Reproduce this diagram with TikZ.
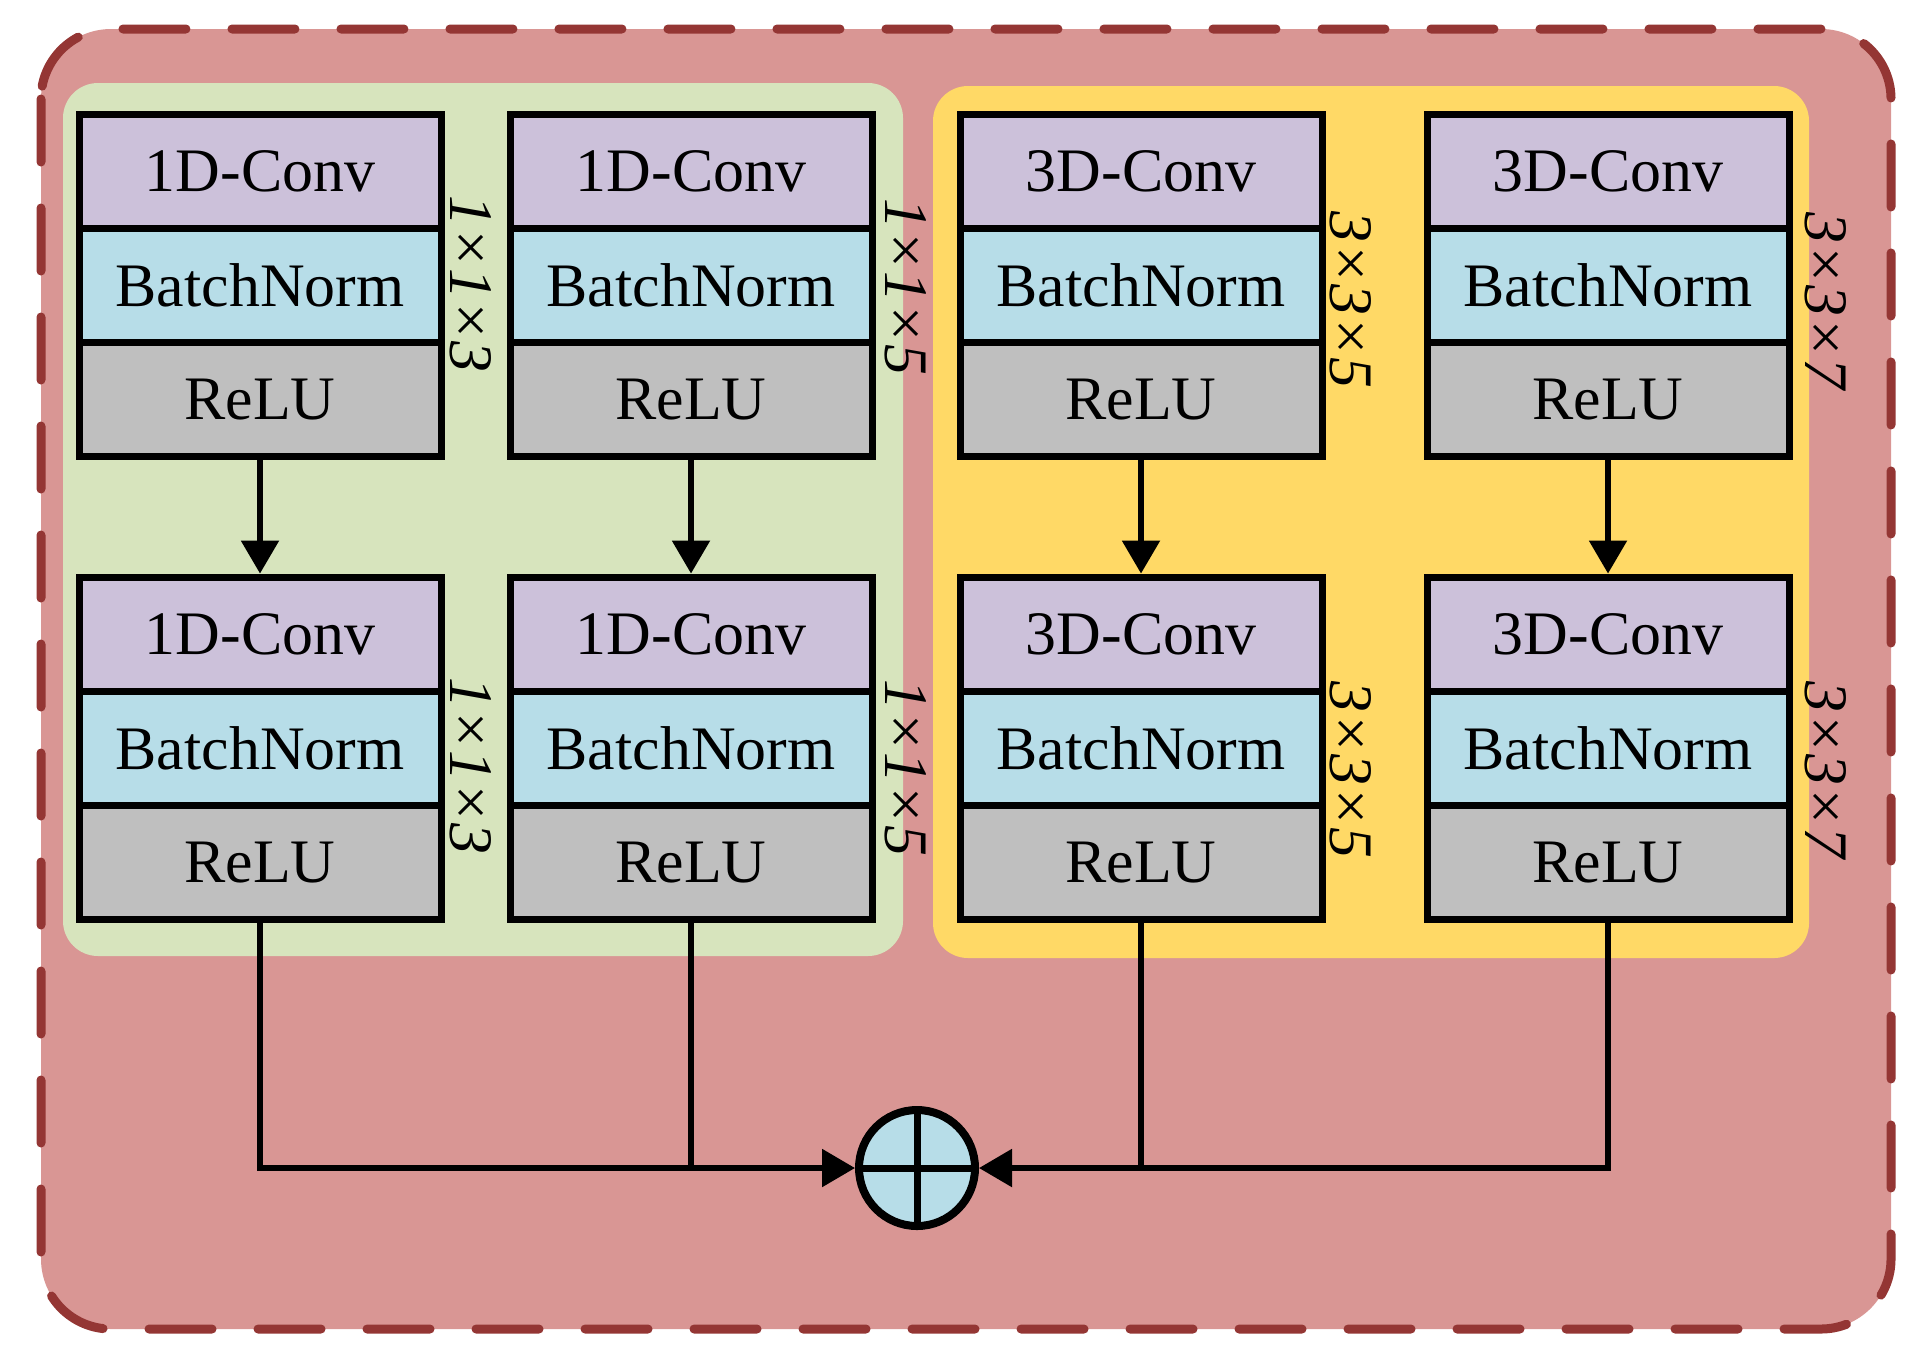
\documentclass[tikz,border=0pt]{standalone}
\usepackage{fontspec}
\setmainfont{Liberation Serif}
\usetikzlibrary{arrows.meta}
\definecolor{outerfill}{HTML}{D99694}
\definecolor{outerline}{HTML}{943634}
\definecolor{greenp}{HTML}{D7E4BD}
\definecolor{yellowp}{HTML}{FFD966}
\definecolor{convc}{HTML}{CCC1DA}
\definecolor{bnc}{HTML}{B7DDE8}
\definecolor{reluc}{HTML}{BFBFBF}
\begin{document}
\begin{tikzpicture}[x=0.1mm,y=-0.1mm,
  sect/.style={draw=black, line width=0.7mm, minimum width=36.2mm, minimum height=11.43mm,
    inner sep=0pt, outer sep=0.35mm, font=\fontsize{17.6}{20}\selectfont},
  conv/.style={sect, fill=convc},
  bn/.style={sect, fill=bnc},
  relu/.style={sect, fill=reluc},
  dimlab/.style={rotate=-90, inner sep=0pt, font=\fontsize{17.6}{20}\selectfont\itshape},
  conn/.style={line width=0.55mm},
  arr/.style={conn, -{Triangle[length=3.3mm,width=3.7mm]}},
]
\useasboundingbox (0,0) rectangle (1919,1361);
% outer dashed container
\fill[outerfill, rounded corners=7mm] (41,29) rectangle (1891,1329);
\draw[outerline, line width=0.9mm, dash pattern=on 6.3mm off 4.6mm, line cap=round,
  rounded corners=7mm] (41,29) rectangle (1891,1329);
% panels
\fill[greenp, rounded corners=3.5mm] (63,83) rectangle (903,956);
\fill[yellowp, rounded corners=3.5mm] (933,86) rectangle (1809,958);
% blocks
\foreach \n/\x/\k/\dm/\lx/\lya/\lyb in {1/260/1D/1×1×3/471/284/766,
    2/691/1D/1×1×5/906/287/768, 3/1141/3D/3×3×5/1351/300/770, 4/1608/3D/3×3×7/1826/301/770}{
  \node[conv] (tc\n) at (\x,171.2) {\k-Conv};
  \node[bn]   (tb\n) at (\x,285.5) {BatchNorm};
  \node[relu] (tr\n) at (\x,399.8) {ReLU};
  \node[conv] (bc\n) at (\x,634.2) {\k-Conv};
  \node[bn]   (bb\n) at (\x,748.5) {BatchNorm};
  \node[relu] (br\n) at (\x,862.8) {ReLU};
  \node[dimlab] (lt\n) at (\lx,\lya) {\dm};
  \node[dimlab] (lb\n) at (\lx,\lyb) {\dm};
  \draw[arr] (tr\n.south) -- (bc\n.north);
}
% sum node
\node[circle, draw=black, line width=0.8mm, fill=bnc, minimum size=11.6mm, inner sep=0pt,
  outer sep=0.4mm] (sum) at (917,1168) {};
\draw[line width=0.7mm] (sum.north) -- (sum.south);
\draw[line width=0.7mm] (sum.west) -- (sum.east);
% connectors
\draw[conn] (br2.south) -- (br2.south |- sum.center);
\draw[conn] (br3.south) -- (br3.south |- sum.center);
\draw[arr] (br1.south) |- (sum.west);
\draw[arr] (br4.south) |- (sum.east);
\end{tikzpicture}
\end{document}
